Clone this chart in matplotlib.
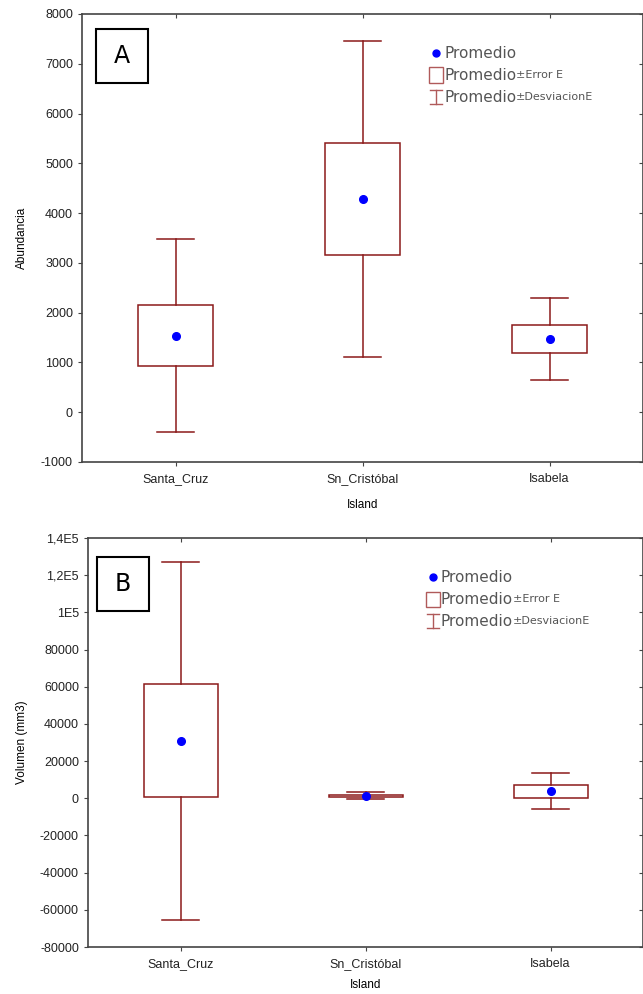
import numpy as np
import matplotlib
matplotlib.use('Agg')
import matplotlib.pyplot as plt
from matplotlib.patches import Rectangle
from matplotlib.lines import Line2D
from matplotlib.ticker import FuncFormatter, MultipleLocator

plt.rcParams['font.family'] = ['Liberation Sans', 'DejaVu Sans']
plt.rcParams['axes.unicode_minus'] = False

islands = ['Santa_Cruz', 'Sn_Cristóbal', 'Isabela']

# panel A - abundancia
abund_mean = [1540, 4280, 1470]
abund_se = [610, 1120, 275]
abund_sd = [1945, 3180, 830]

# panel B - volumen (mm3)
vol_mean = [31000, 1400, 3700]
vol_se = [30400, 600, 3300]
vol_sd = [96300, 1800, 9700]

box_col = '#8b1a1a'
spine_col = '#444444'


def draw_panel(ax, mean, se, sd, ylim, step, ylabel, letter, letter_box, fmt=None):
    x = np.arange(len(islands))
    mean = np.array(mean)
    se = np.array(se)
    sd = np.array(sd)
    bw = 0.40
    cw = 0.20
    for xi, m, e, s in zip(x, mean, se, sd):
        ax.add_patch(Rectangle((xi - bw / 2, m - e), bw, 2 * e, fill=False,
                               ec=box_col, lw=1.1, zorder=2))
        ax.plot([xi, xi], [m + e, m + s], color=box_col, lw=1.1, zorder=2)
        ax.plot([xi, xi], [m - e, m - s], color=box_col, lw=1.1, zorder=2)
        ax.plot([xi - cw / 2, xi + cw / 2], [m + s, m + s], color=box_col, lw=1.1, zorder=2)
        ax.plot([xi - cw / 2, xi + cw / 2], [m - s, m - s], color=box_col, lw=1.1, zorder=2)
    ax.plot(x, mean, 'o', color='#0000ff', ms=5.5, zorder=3)

    ax.set_xlim(-0.5, len(islands) - 0.5)
    ax.set_ylim(*ylim)
    ax.yaxis.set_major_locator(MultipleLocator(step))
    if fmt is not None:
        ax.yaxis.set_major_formatter(FuncFormatter(fmt))
    ax.set_xticks(x)
    ax.set_xticklabels(islands)
    ax.tick_params(axis='both', labelsize=9, colors='#222222', length=3,
                   width=0.8, color=spine_col)
    ax.tick_params(axis='x', top=True, pad=5)
    ax.tick_params(axis='y', right=True, direction='out')
    for t in ax.yaxis.get_ticklines()[1::2]:
        t.set_marker(0)  # right ticks point inward
    for t in ax.xaxis.get_ticklines()[1::2]:
        t.set_marker(3)  # top ticks point inward
    for sp in ax.spines.values():
        sp.set_color(spine_col)
        sp.set_linewidth(1.2)

    ax.set_ylabel(ylabel, fontsize=8.5)
    ax.set_xlabel('Island', fontsize=8.5)

    x0, y0, x1, y1 = letter_box
    ax.add_patch(Rectangle((x0, y0), x1 - x0, y1 - y0, transform=ax.transAxes,
                           fill=False, ec='black', lw=1.5, zorder=4))
    ax.text((x0 + x1) / 2, (y0 + y1) / 2, letter, transform=ax.transAxes,
            ha='center', va='center', fontsize=17, family='DejaVu Sans')


def draw_legend(fig, px, py):
    # px, py in pixels from top-left of figure
    W, H = 643.0, 994.0
    rows = [('dot', '±Error E'), ('box', '±Error E'), ('bar', '±DesviacionE')]
    gap = 22
    for i, (kind, extra) in enumerate(rows):
        yy = 1 - (py + i * gap) / H
        xm = (px + 4) / W
        if kind == 'dot':
            fig.add_artist(Line2D([xm], [yy], marker='o', ms=5, color='#0000ff',
                                  transform=fig.transFigure, lw=0))
        elif kind == 'box':
            fig.add_artist(Rectangle(((px - 3) / W, yy - 7.5 / H), 14 / W, 15 / H,
                                     fill=False, ec='#b05a5a', lw=1.0,
                                     transform=fig.transFigure))
        else:
            fig.add_artist(Line2D([xm, xm], [yy - 7 / H, yy + 7 / H], color='#b05a5a',
                                  lw=1.0, transform=fig.transFigure))
            fig.add_artist(Line2D([(px - 2) / W, (px + 10) / W], [yy + 7 / H] * 2,
                                  color='#b05a5a', lw=1.0, transform=fig.transFigure))
            fig.add_artist(Line2D([(px - 2) / W, (px + 10) / W], [yy - 7 / H] * 2,
                                  color='#b05a5a', lw=1.0, transform=fig.transFigure))
        t1 = fig.text((px + 12) / W, yy, 'Promedio', fontsize=11, color='#555555',
                      va='center', ha='left', family='DejaVu Sans')
        if kind != 'dot':
            fig.add_artist(plt.Annotation(extra, xy=(1, 0.5), xycoords=t1,
                                          va='center', ha='left', fontsize=8,
                                          color='#555555', family='DejaVu Sans'))


fig = plt.figure(figsize=(6.43, 9.94), dpi=100)
axA = fig.add_axes([82 / 643, 1 - 462 / 994, 561 / 643, 448 / 994])
axB = fig.add_axes([88 / 643, 1 - 947 / 994, 555 / 643, 409 / 994])

draw_panel(axA, abund_mean, abund_se, abund_sd, (-1000, 8000), 1000,
           'Abundancia', 'A', (0.0245, 0.847, 0.118, 0.967))
axA.xaxis.set_label_coords(0.5, -0.083)
axA.yaxis.set_label_coords(-0.096, 0.5)


def vol_fmt(v, pos):
    if abs(v) >= 100000:
        s = ('%g' % (v / 1e5)).replace('.', ',')
        return s + 'E5'
    return '%d' % v


draw_panel(axB, vol_mean, vol_se, vol_sd, (-80000, 140000), 20000,
           'Volumen (mm3)', 'B', (0.0162, 0.821, 0.1107, 0.954), fmt=vol_fmt)
axB.xaxis.set_label_coords(0.5, -0.078)
axB.yaxis.set_label_coords(-0.108, 0.5)

draw_legend(fig, 432, 53)
draw_legend(fig, 429, 577)

fig.savefig('out.png', dpi=100)
